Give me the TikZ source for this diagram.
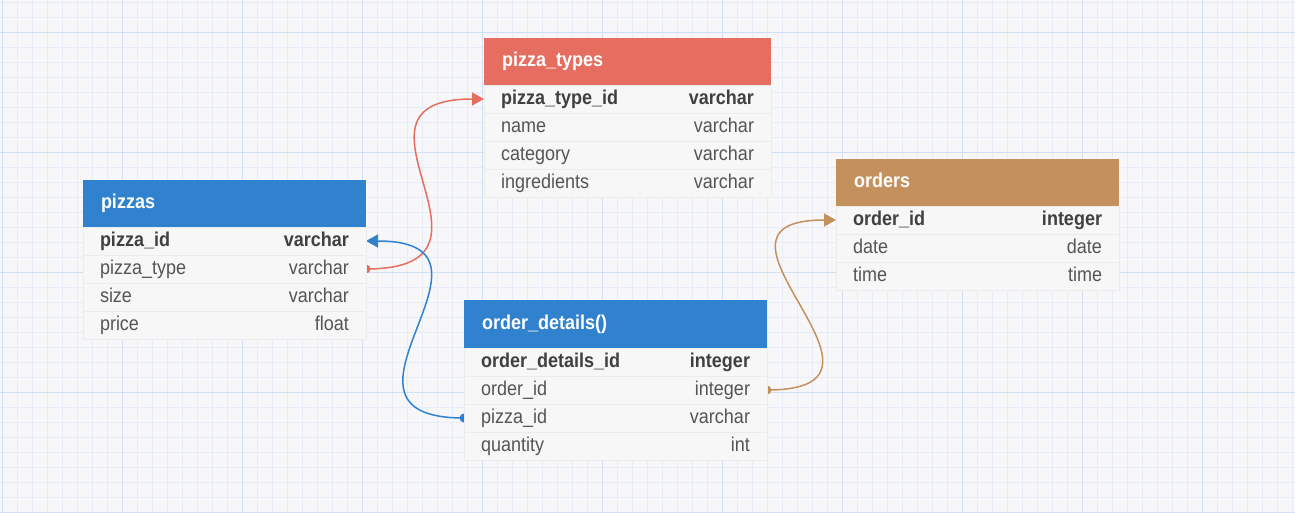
\documentclass[tikz,border=0pt]{standalone}
\usepackage{fontspec}
\setmainfont{Liberation Sans}[FakeStretch=0.9]
\usepackage{xcolor}
\usepackage{tikz}
\usetikzlibrary{arrows.meta, positioning}

\definecolor{canvas}{HTML}{F7F7F9}
\definecolor{gridminor}{HTML}{E6ECF8}
\definecolor{gridmajor}{HTML}{D3DFF4}
\definecolor{headblue}{HTML}{3182CE}
\definecolor{headred}{HTML}{E66E61}
\definecolor{headtan}{HTML}{C4915D}
\definecolor{rowfill}{HTML}{F7F7F7}
\definecolor{rowline}{HTML}{ECECEC}
\definecolor{keytext}{HTML}{404040}
\definecolor{coltext}{HTML}{555555}

\pgfdeclarelayer{grid}
\pgfdeclarelayer{links}
\pgfsetlayers{grid,links,main}

\tikzset{
  tblhead/.style={rectangle, anchor=north west, fill=#1, minimum height=47pt,
    inner xsep=18pt, inner ysep=0pt, outer sep=0pt, text height=14.5pt, text depth=4pt,
    text=white, font=\bfseries\fontsize{20}{24}\selectfont, align=left},
  tblrow/.style={rectangle, fill=rowfill, draw=rowline, line width=0.8pt,
    minimum height=28pt, inner xsep=17pt, inner ysep=0pt, outer sep=0pt, text height=14.5pt,
    text depth=4pt, text=coltext, font=\fontsize{20}{24}\selectfont, align=left},
  tblkey/.style={tblrow, text=keytext, font=\bfseries\fontsize{20}{24}\selectfont},
  link/.style={line width=1.5pt, -{Triangle[length=12pt, width=13pt]}},
}

\begin{document}
\begin{tikzpicture}[x=1pt, y=-1pt]
    \useasboundingbox (0,0) rectangle (1295,512);

    \begin{pgfonlayer}{grid}
      \fill[canvas] (0,0) rectangle (1295,512);
      \foreach \gx in {2,17,...,1292} \draw[gridminor, line width=0.7pt] (\gx,0) -- (\gx,512);
      \foreach \gy in {2,17,...,512} \draw[gridminor, line width=0.7pt] (0,\gy) -- (1295,\gy);
      \foreach \gx in {2,122,...,1292} \draw[gridmajor, line width=0.8pt] (\gx,0) -- (\gx,512);
      \foreach \gy in {32,152,...,512} \draw[gridmajor, line width=0.8pt] (0,\gy) -- (1295,\gy);
    \end{pgfonlayer}

    % pizzas
    \node[tblhead=headblue, text width=247pt] (pizzas) at (83,180) {pizzas};
    \node[tblkey, text width=249pt, below=0pt of pizzas] (pizzas-id) {pizza\_id\hfill varchar};
    \node[tblrow, text width=249pt, below=0pt of pizzas-id] (pizzas-type) {pizza\_type\hfill varchar};
    \node[tblrow, text width=249pt, below=0pt of pizzas-type] (pizzas-size) {size\hfill varchar};
    \node[tblrow, text width=249pt, below=0pt of pizzas-size] (pizzas-price) {price\hfill float};

    % pizza_types
    \node[tblhead=headred, text width=251pt] (types) at (484,38) {pizza\_types};
    \node[tblkey, text width=253pt, below=0pt of types] (types-id) {pizza\_type\_id\hfill varchar};
    \node[tblrow, text width=253pt, below=0pt of types-id] (types-name) {name\hfill varchar};
    \node[tblrow, text width=253pt, below=0pt of types-name] (types-cat) {category\hfill varchar};
    \node[tblrow, text width=253pt, below=0pt of types-cat] (types-ingr) {ingredients\hfill varchar};

    % orders
    \node[tblhead=headtan, text width=247pt] (orders) at (836,159) {orders};
    \node[tblkey, text width=249pt, below=0pt of orders] (orders-id) {order\_id\hfill integer};
    \node[tblrow, text width=249pt, below=0pt of orders-id] (orders-date) {date\hfill date};
    \node[tblrow, text width=249pt, below=0pt of orders-date] (orders-time) {time\hfill time};

    % order_details()
    \node[tblhead=headblue, text width=267pt, minimum height=48pt] (details) at (464,300) {order\_details()};
    \node[tblkey, text width=269pt, below=0pt of details] (details-id) {order\_details\_id\hfill integer};
    \node[tblrow, text width=269pt, below=0pt of details-id] (details-order) {order\_id\hfill integer};
    \node[tblrow, text width=269pt, below=0pt of details-order] (details-pizza) {pizza\_id\hfill varchar};
    \node[tblrow, text width=269pt, below=0pt of details-pizza] (details-qty) {quantity\hfill int};

    % references
    \begin{pgfonlayer}{links}
      \fill[headred] (pizzas-type.east) circle[radius=4.5pt];
      \draw[link, headred] (pizzas-type.east) .. controls +(160,0) and +(-160,0) .. (types-id.west);

      \fill[headblue] (details-pizza.west) circle[radius=4.5pt];
      \draw[link, headblue] (details-pizza.west) .. controls +(-160,0) and +(160,0) .. (pizzas-id.east);

      \fill[headtan] (details-order.east) circle[radius=4.5pt];
      \draw[link, headtan] (details-order.east) .. controls +(160,0) and +(-160,0) .. (orders-id.west);
    \end{pgfonlayer}
\end{tikzpicture}
\end{document}
